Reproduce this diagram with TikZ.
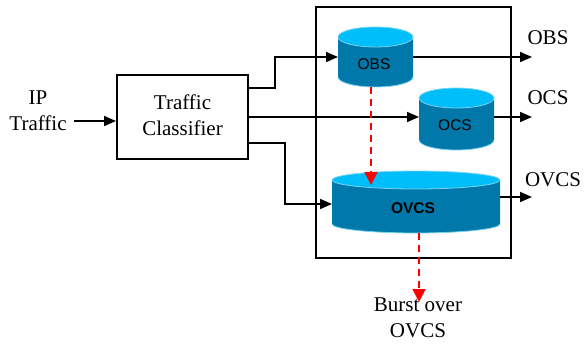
\documentclass[tikz,border=0pt]{standalone}
\usepackage{fontspec}
\setmainfont{Liberation Serif}
\newfontfamily\arialf{Liberation Sans}
\usetikzlibrary{arrows.meta}
\definecolor{cylside}{RGB}{0,120,170}
\definecolor{cyltop}{RGB}{0,190,250}
\definecolor{cylrim}{RGB}{120,210,240}
\tikzset{
  conn/.style={line width=1.7pt,-{Triangle[length=12pt,width=10pt]}},
  reddash/.style={red,line width=1.6pt,dash pattern=on 7pt off 5pt,-{Triangle[length=13pt,width=13pt]}},
  boxst/.style={draw,line width=2pt},
  lbl/.style={font=\fontsize{21}{26}\selectfont,align=center,inner sep=0pt},
  cyllbl/.style={font=\arialf\fontsize{15.5}{18}\selectfont,inner sep=0pt}
}
% \mycyl{name}{cx}{topY}{botY}{rx}{ry}
\newcommand{\mycyl}[6]{%
  \pgfmathsetmacro{\tc}{#3-#6}%
  \pgfmathsetmacro{\bc}{#4+#6}%
  \fill[cylside] (#2-#5,\tc) -- (#2-#5,\bc) arc[start angle=180,end angle=360,x radius=#5,y radius=#6] -- (#2+#5,\tc) -- cycle;
  \draw[cylrim,line width=0.8pt] (#2-#5,\bc) arc[start angle=180,end angle=360,x radius=#5,y radius=#6];
  \fill[cyltop] (#2,\tc) ellipse[x radius=#5,y radius=#6];
  \draw[cylrim,line width=0.8pt] (#2,\tc) ellipse[x radius=#5,y radius=#6];
  \node[inner sep=0pt,minimum width=2*#5,minimum height=#3-#4] (#1) at (#2,{(#3+#4)/2}) {};
}
\begin{document}
\begin{tikzpicture}[x=1pt,y=1pt]
\useasboundingbox (0,0) rectangle (585,343);
% outer box
\node[boxst,minimum width=195pt,minimum height=251pt,inner sep=0pt] (outer) at (413.5,210.5) {};
% classifier
\node[boxst,minimum width=131pt,minimum height=84pt,inner sep=0pt] (clf) at (182.5,226) {};
\node[lbl] (clftxt) at (182.5,228) {Traffic\\Classifier};
% IP traffic
\node[lbl] (ip) at (38,232) {IP\\Traffic};
\coordinate (ipend) at (74,222);
\draw[conn] (ipend) -- (ipend -| clf.west);
% cylinders
\mycyl{obs}{375.5}{316}{256}{37.5}{10}
\mycyl{ocs}{456.5}{255}{193}{37.5}{10}
\mycyl{ovcs}{416}{172}{110}{84}{9}
\node[cyllbl] (obst) at (374,279) {OBS};
\node[cyllbl] (ocst) at (455,218) {OCS};
\node[cyllbl,font=\arialf\bfseries\fontsize{15.5}{18}\selectfont] (ovcst) at (413,135) {OVCS};
% classifier outputs
\coordinate (o1) at (248,255);
\coordinate (o2) at (248,226);
\coordinate (o3) at (248,200);
\coordinate (j1) at (275,255);
\coordinate (j3) at (285,200);
\coordinate (i1) at (338,286);
\coordinate (i2) at (419,226);
\coordinate (i3) at (332,139);
\draw[conn] (o1) -- (j1) -- (j1 |- i1) -- (i1);
\draw[conn] (o2) -- (i2);
\draw[conn] (o3) -- (j3) -- (j3 |- i3) -- (i3);
% outputs
\coordinate (e1) at (532,286);
\coordinate (e2) at (532,226);
\coordinate (e3) at (532,146);
\draw[conn] (obs.east |- e1) -- (e1);
\draw[conn] (ocs.east |- e2) -- (e2);
\draw[conn] (ovcs.east |- e3) -- (e3);
\node[lbl] (lobs) at (548,305) {OBS};
\node[lbl] (locs) at (548,245) {OCS};
\node[lbl] (lovcs) at (553,163) {OVCS};
% red dashed
\coordinate (r1) at (371,158);
\draw[reddash] (r1 |- obs.south) -- (r1);
\node[lbl,anchor=north] (burst) at (418,45) {Burst over\\OVCS};
\coordinate (r2) at (419,41);
\draw[reddash] (r2 |- ovcs.south) -- (r2);
\end{tikzpicture}
\end{document}
